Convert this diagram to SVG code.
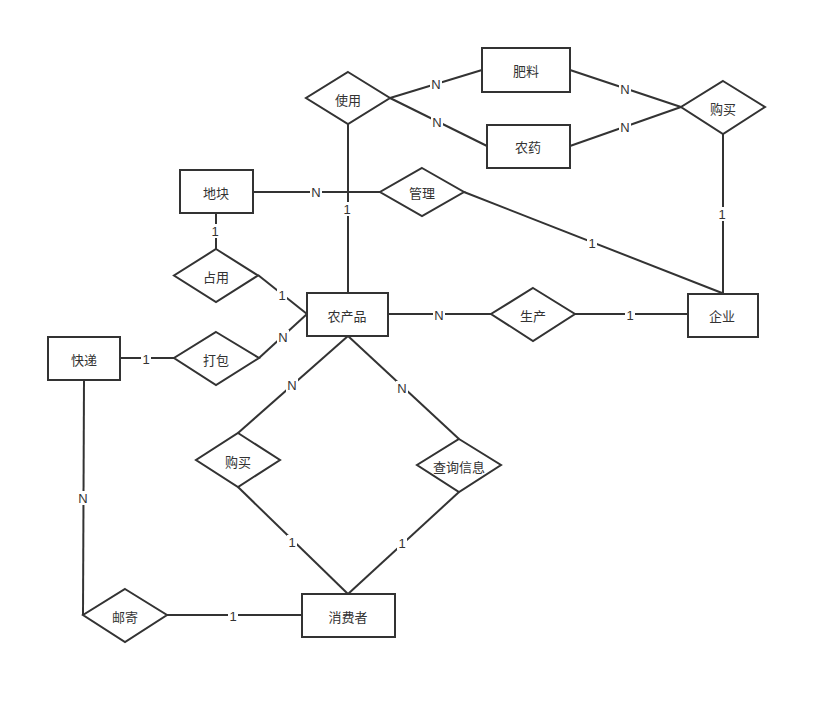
<svg xmlns="http://www.w3.org/2000/svg" width="826" height="704" viewBox="0 0 826 704">
<style>
.shape{fill:#fff;stroke:#333;stroke-width:2}
.shadow{fill:none;stroke:#bbb;stroke-width:2}
.t{font-family:"Noto Sans CJK SC","Noto Sans",sans-serif;font-size:13px;fill:#333;text-anchor:middle;dominant-baseline:central}
.edge{fill:none;stroke:#333;stroke-width:2}
.lb{fill:#fff}
.l{font-family:"Liberation Sans","DejaVu Sans",sans-serif;font-size:13px;fill:#333;text-anchor:middle;dominant-baseline:central}
</style>
<rect width="826" height="704" fill="#fff"/>
<g id="connectors">
<path class="edge" d="M390 98L482 70"/>
<path class="edge" d="M390 98L487 146"/>
<path class="edge" d="M570 70L681 107"/>
<path class="edge" d="M570 146L681 107"/>
<path class="edge" d="M723 134L723 294"/>
<path class="edge" d="M348 124L348 293"/>
<path class="edge" d="M253 192L380 192"/>
<path class="edge" d="M464 192L722 293"/>
<path class="edge" d="M216 213L216 249"/>
<path class="edge" d="M258 275L307 314"/>
<path class="edge" d="M259 358L307 314"/>
<path class="edge" d="M120 358L174 358"/>
<path class="edge" d="M388 314L491 314"/>
<path class="edge" d="M575 314L688 314"/>
<path class="edge" d="M348 336L238 433"/>
<path class="edge" d="M348 336L459 439"/>
<path class="edge" d="M238 487L348 594"/>
<path class="edge" d="M459 492L348 594"/>
<path class="edge" d="M84 380L83 615"/>
<path class="edge" d="M167 615L302 615"/>
<g id="labels">
<rect class="lb" x="430" y="77" width="12" height="14"/><text class="l" x="436" y="84">N</text>
<rect class="lb" x="431" y="115" width="12" height="14"/><text class="l" x="437" y="122">N</text>
<rect class="lb" x="619" y="82" width="12" height="14"/><text class="l" x="625" y="89">N</text>
<rect class="lb" x="619" y="120" width="12" height="14"/><text class="l" x="625" y="127">N</text>
<rect class="lb" x="717" y="207" width="10" height="14"/><text class="l" x="722" y="214">1</text>
<rect class="lb" x="342" y="202" width="10" height="14"/><text class="l" x="347" y="209">1</text>
<rect class="lb" x="310" y="185" width="12" height="14"/><text class="l" x="316" y="192">N</text>
<rect class="lb" x="587" y="236" width="10" height="14"/><text class="l" x="592" y="243">1</text>
<rect class="lb" x="210" y="224" width="10" height="14"/><text class="l" x="215" y="231">1</text>
<rect class="lb" x="277" y="288" width="10" height="14"/><text class="l" x="282" y="295">1</text>
<rect class="lb" x="277" y="330" width="12" height="14"/><text class="l" x="283" y="337">N</text>
<rect class="lb" x="141" y="352" width="10" height="14"/><text class="l" x="146" y="359">1</text>
<rect class="lb" x="433" y="308" width="12" height="14"/><text class="l" x="439" y="315">N</text>
<rect class="lb" x="625" y="308" width="10" height="14"/><text class="l" x="630" y="315">1</text>
<rect class="lb" x="286" y="378" width="12" height="14"/><text class="l" x="292" y="385">N</text>
<rect class="lb" x="396" y="381" width="12" height="14"/><text class="l" x="402" y="388">N</text>
<rect class="lb" x="287" y="535" width="10" height="14"/><text class="l" x="292" y="542">1</text>
<rect class="lb" x="397" y="536" width="10" height="14"/><text class="l" x="402" y="543">1</text>
<rect class="lb" x="77" y="491" width="12" height="14"/><text class="l" x="83" y="498">N</text>
<rect class="lb" x="228" y="609" width="10" height="14"/><text class="l" x="233" y="616">1</text>
</g>
</g>
<g id="feiliao"><rect class="shape" x="482" y="48" width="88" height="44"/><text class="t" x="526" y="70">肥料</text></g>
<g id="nongyao"><rect class="shape" x="487" y="125" width="83" height="43"/><text class="t" x="528" y="146">农药</text></g>
<g id="shiyong"><path class="shape" d="M348 72L390 98L348 124L306 98Z"/><text class="t" x="348" y="99">使用</text></g>
<g id="goumai1"><path class="shape" d="M723 81L765 107L723 134L681 107Z"/><text class="t" x="723" y="108">购买</text></g>
<g id="dikuai"><rect class="shape" x="180" y="170" width="73" height="43"/><text class="t" x="216" y="192">地块</text></g>
<g id="guanli"><path class="shape" d="M422 168L464 192L422 216L380 192Z"/><text class="t" x="422" y="192">管理</text></g>
<g id="zhanyong"><path class="shape" d="M216 249L258 275.5L216 302L174 275.5Z"/><text class="t" x="216" y="276">占用</text></g>
<g id="nongchanpin"><rect class="shape" x="307" y="293" width="81" height="43"/><text class="t" x="347" y="315">农产品</text></g>
<g id="kuaidi"><rect class="shape" x="48" y="337" width="72" height="43"/><text class="t" x="84" y="359">快递</text></g>
<g id="dabao"><path class="shape" d="M216 332L259 358L216 385L174 358Z"/><text class="t" x="216" y="359">打包</text></g>
<g id="shengchan"><path class="shape" d="M533 288L575 314L533 341L491 314Z"/><text class="t" x="533" y="315">生产</text></g>
<g id="qiye"><rect class="shape" x="688" y="294" width="70" height="43"/><text class="t" x="722" y="315">企业</text></g>
<g id="goumai2"><path class="shape" d="M238 433L280 460L238 487L196 460Z"/><text class="t" x="238" y="461">购买</text></g>
<g id="chaxun"><path class="shape" d="M459 439L501 465L459 492L417 465Z"/><text class="t" x="459" y="466">查询信息</text></g>
<g id="xiaofeizhe"><rect class="shape" x="302" y="594" width="93" height="43"/><text class="t" x="348" y="616">消费者</text></g>
<g id="youji"><path class="shape" d="M125 589L167 615L125 642L83 615Z"/><text class="t" x="125" y="616">邮寄</text></g>
</svg>
